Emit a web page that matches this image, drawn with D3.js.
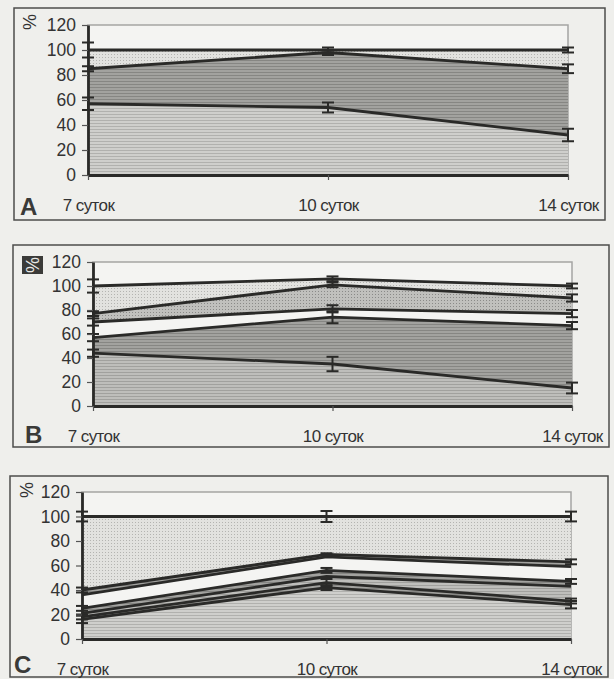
<!DOCTYPE html>
<html>
<head>
<meta charset="utf-8">
<script src="https://cdn.jsdelivr.net/npm/d3@7"></script>
<style>
  body { margin: 0; background: #efefec; }
  svg { display: block; }
  text { font-family: "Liberation Sans", Arial, sans-serif; fill: #333; }
</style>
</head>
<body>
<script>
// categories and ticks
const days = ["7 суток", "10 суток", "14 суток"];
const yTicks = [0, 20, 40, 60, 80, 100, 120];

// panel A: boundary lines, top to bottom, and their error bars
const aTop = [100, 100, 100];
const aMid = [85, 98, 85];
const aLow = [57, 54, 32];
const aTopErr = [6, 2, 2];
const aMidErr = [2, 2, 3.5];
const aLowErr = [5, 4, 5];

// panel B
const bTop = [100, 106, 100];
const bL2 = [77, 101, 90];
const bL3 = [70, 81, 77];
const bL4 = [57, 74, 67];
const bL5 = [44, 35, 15];
const bTopErr = [5.5, 2, 2];
const bL2Err = [2, 2, 3];
const bL3Err = [3, 3, 3];
const bL4Err = [3, 5, 3];
const bL5Err = [3, 6, 4.5];

// panel C
const cTop = [100, 100, 100];
const cL1 = [40, 69, 63];
const cL2 = [36, 67, 59];
const cL3 = [25, 56, 47];
const cL4 = [21, 51, 43];
const cL5 = [18, 46, 31];
const cL6 = [16, 42, 28];
const cTopErr = [4, 4.5, 4];
const cL1Err = [2, 1, 2];
const cL3Err = [2, 2, 2];
const cL5Err = [2, 3, 2];
const cL6Err = [3, 2, 3];

function drawAll() {
	let svg = d3.select("body").append("svg")
		.attr("width", 614)
		.attr("height", 679);

	// textures like the scanned print
	let defs = svg.append("defs");
	function dotPattern(id, bg, dot) {
		let p = defs.append("pattern").attr("id", id)
			.attr("width", 3).attr("height", 3)
			.attr("patternUnits", "userSpaceOnUse");
		p.append("rect").attr("width", 3).attr("height", 3).attr("fill", bg);
		p.append("rect").attr("width", 1).attr("height", 1).attr("fill", dot);
	}
	function linePattern(id, bg, ln) {
		let p = defs.append("pattern").attr("id", id)
			.attr("width", 4).attr("height", 3)
			.attr("patternUnits", "userSpaceOnUse");
		p.append("rect").attr("width", 4).attr("height", 3).attr("fill", bg);
		p.append("rect").attr("width", 4).attr("height", 1).attr("fill", ln);
	}
	dotPattern("dots", "#e2e2df", "#b4b4b1");
	dotPattern("dotsMid", "#c0c0bd", "#8a8a88");
	linePattern("linesLight", "#cfcfcc", "#b1b1ae");
	linePattern("linesMid", "#bebebb", "#a1a19e");
	linePattern("linesDark", "#a2a29f", "#868683");

	drawPanel(svg, {
		frame: { x: 14, y: 8, w: 591, h: 212 },
		plot: { l: 88, r: 568, t: 25, b: 175 },
		letter: "A", letterPos: [20, 215],
		pct: [30, 22], pctBox: false,
		lines: [aTop, aMid, aLow],
		errs: [aTopErr, aMidErr, aLowErr],
		fills: ["url(#dots)", "url(#linesDark)", "url(#linesLight)"],
		pad: 19
	});

	drawPanel(svg, {
		frame: { x: 13, y: 245, w: 596, h: 202 },
		plot: { l: 93, r: 572, t: 262, b: 406 },
		letter: "B", letterPos: [25, 443],
		pct: [33, 265], pctBox: true,
		lines: [bTop, bL2, bL3, bL4, bL5],
		errs: [bTopErr, bL2Err, bL3Err, bL4Err, bL5Err],
		fills: ["url(#dots)", "url(#dotsMid)", "#f4f4f2", "url(#linesDark)", "url(#linesMid)"],
		pad: 19
	});

	drawPanel(svg, {
		frame: { x: 10, y: 476, w: 598, h: 201 },
		plot: { l: 82, r: 571, t: 492, b: 639 },
		letter: "C", letterPos: [14, 673],
		pct: [27, 490], pctBox: false,
		lines: [cTop, cL1, cL2, cL3, cL4, cL5, cL6],
		errs: [cTopErr, cL1Err, null, cL3Err, null, cL5Err, cL6Err],
		fills: ["url(#dots)", "url(#linesDark)", "#f4f4f2", "url(#linesDark)", "url(#linesMid)", "url(#linesDark)", "url(#linesLight)"],
		pad: 19
	});
}

function drawPanel(svg, cfg) {
	let p = cfg.plot;
	let g = svg.append("g");

	let x = d3.scalePoint().domain(days).range([p.l, p.r]);
	let y = d3.scaleLinear().domain([0, 120]).range([p.b, p.t]);

	// outer frame
	g.append("rect")
		.attr("x", cfg.frame.x).attr("y", cfg.frame.y)
		.attr("width", cfg.frame.w).attr("height", cfg.frame.h)
		.attr("fill", "none").attr("stroke", "#4d4d4b").attr("stroke-width", 1.5);

	// plot area (grey border)
	g.append("rect")
		.attr("x", p.l).attr("y", p.t)
		.attr("width", p.r - p.l).attr("height", p.b - p.t)
		.attr("fill", "#f4f4f2").attr("stroke", "#a5a5a3").attr("stroke-width", 1.5);

	// bands between consecutive lines, last one down to 0
	let zero = days.map(() => 0);
	cfg.lines.forEach((upper, i) => {
		let lower = cfg.lines[i + 1] || zero;
		let area = d3.area()
			.x((d, k) => x(days[k]))
			.y0((d, k) => y(lower[k]))
			.y1((d) => y(d));
		g.append("path").datum(upper).attr("d", area).attr("fill", cfg.fills[i]);
	});

	// the boundary lines
	let line = d3.line()
		.x((d, k) => x(days[k]))
		.y((d) => y(d));
	cfg.lines.forEach((vals) => {
		g.append("path").datum(vals).attr("d", line)
			.attr("fill", "none").attr("stroke", "#2a2a28").attr("stroke-width", 2.8);
	});

	// error bars
	cfg.lines.forEach((vals, i) => {
		let err = cfg.errs[i];
		if (!err) return;
		vals.forEach((v, k) => {
			let cx = x(days[k]);
			let eb = g.append("g").attr("stroke", "#2a2a28").attr("stroke-width", 2);
			eb.append("line").attr("x1", cx).attr("x2", cx)
				.attr("y1", y(v - err[k])).attr("y2", y(v + err[k]));
			[v - err[k], v + err[k]].forEach((e) => {
				eb.append("line").attr("x1", cx - 6).attr("x2", cx + 6)
					.attr("y1", y(e)).attr("y2", y(e));
			});
		});
	});

	// y axis
	let ya = g.append("g")
		.attr("transform", "translate(" + p.l + ",0)")
		.call(d3.axisLeft(y).tickValues(yTicks).tickSize(6).tickSizeOuter(0).tickPadding(6));
	ya.select(".domain").attr("stroke", "#2a2a28").attr("stroke-width", 2.8);
	ya.selectAll(".tick line").attr("stroke", "#555").attr("stroke-width", 1.2);
	ya.selectAll(".tick text").attr("font-size", 17.5).attr("fill", "#333")
		.attr("font-family", "Liberation Sans, Arial, sans-serif");

	// x axis
	let xa = g.append("g")
		.attr("transform", "translate(0," + p.b + ")")
		.call(d3.axisBottom(x).tickSize(5).tickSizeOuter(0).tickPadding(cfg.pad));
	xa.select(".domain").attr("stroke", "#2a2a28").attr("stroke-width", 2.8);
	xa.selectAll(".tick line").attr("stroke", "#555").attr("stroke-width", 1.2);
	xa.selectAll(".tick text").attr("font-size", 17).attr("fill", "#333")
		.attr("letter-spacing", -0.6)
		.attr("font-family", "Liberation Sans, Arial, sans-serif");

	// panel letter
	g.append("text")
		.attr("x", cfg.letterPos[0]).attr("y", cfg.letterPos[1])
		.attr("font-family", "Liberation Serif, Times New Roman, serif")
		.attr("font-weight", "bold").attr("font-size", 24)
		.style("fill", "#3a3a38")
		.text(cfg.letter);

	// rotated percent sign
	let pg = g.append("g")
		.attr("transform", "translate(" + cfg.pct[0] + "," + cfg.pct[1] + ") rotate(-90)");
	if (cfg.pctBox) {
		pg.append("rect").attr("x", -9).attr("y", -11).attr("width", 18).attr("height", 21)
			.attr("fill", "#3a3a38");
	}
	pg.append("text")
		.attr("text-anchor", "middle").attr("dy", "0.35em")
		.attr("font-size", 18)
		.style("fill", cfg.pctBox ? "#e8e8e5" : "#333")
		.text("%");
}

window.addEventListener("load", drawAll);
</script>
</body>
</html>
